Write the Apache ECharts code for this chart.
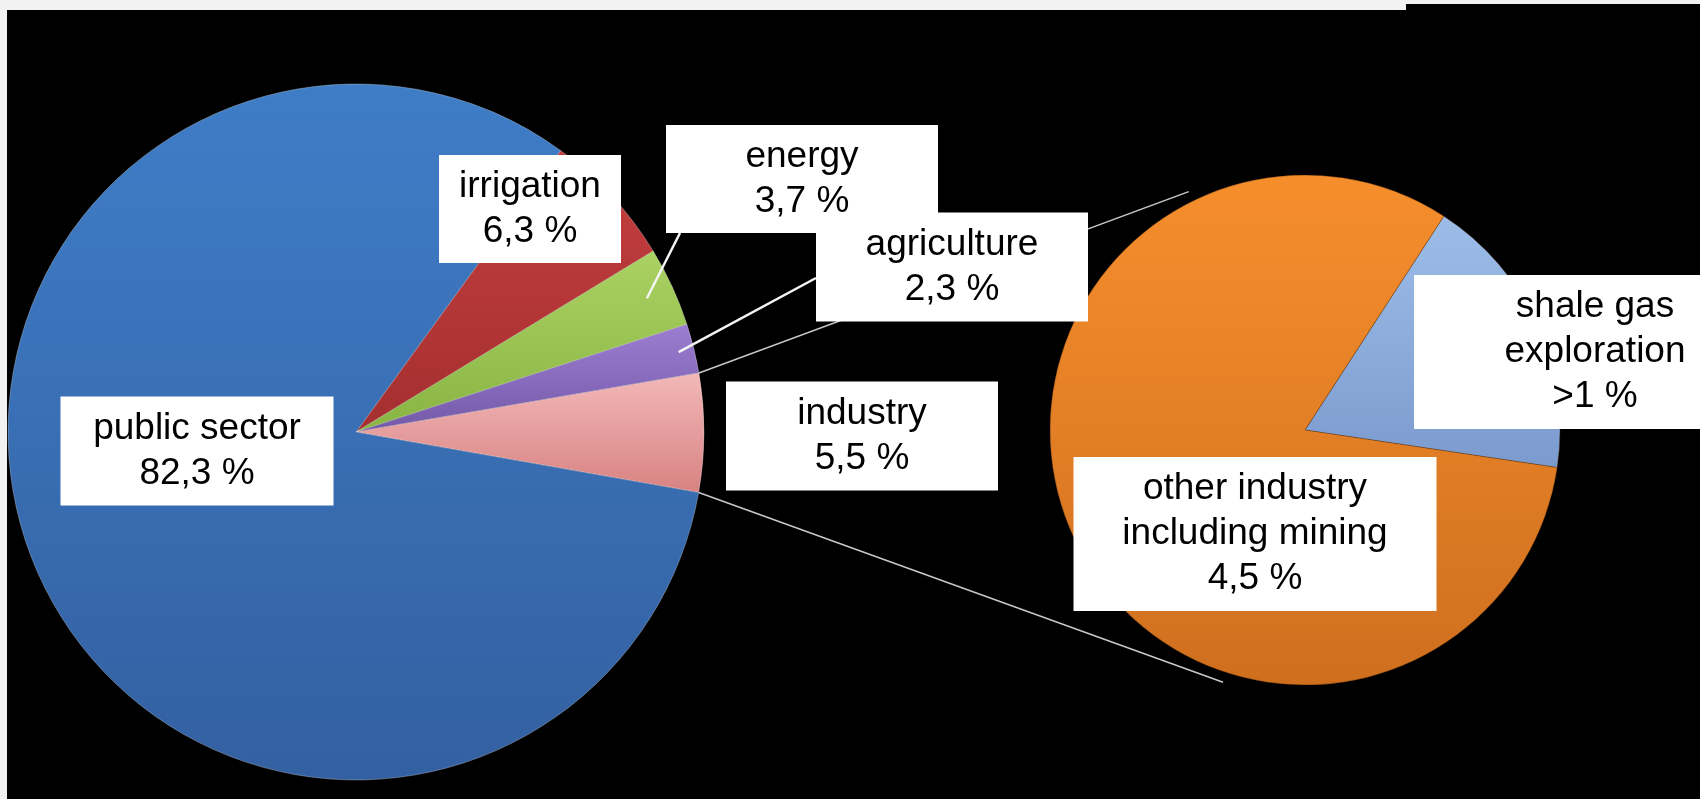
<!DOCTYPE html>
<html>
<head>
<meta charset="utf-8">
<script src="https://cdn.jsdelivr.net/npm/echarts@6/dist/echarts.min.js"></script>
<style>
  html, body { margin: 0; padding: 0; background: #f2f2f2; }
  #chart { width: 1700px; height: 799px; }
</style>
</head>
<body>
<div id="chart"></div>
<script>
// Water use by sector; the industry share is split out in the second pie.
const sectorNames = ['irrigation', 'energy', 'agriculture', 'industry', 'public sector'];
const sectorValues = [6.3, 3.7, 2.3, 5.5, 82.3];

const industryNames = ['shale gas\nexploration', 'other industry\nincluding mining'];
const industryValues = [1, 4.5];
const industryPrefix = ['>', ''];

// Pie geometry
const LEFT = { cx: 356, cy: 432, r: 348, start: 54 };
const RIGHT = { cx: 1305, cy: 430, r: 255, start: 57 };

// Label boxes: centre, width, height
const boxes = {
  'irrigation': { x: 530, y: 209, w: 182, h: 108 },
  'energy': { x: 802, y: 179, w: 272, h: 108 },
  'agriculture': { x: 952, y: 267, w: 272, h: 109 },
  'industry': { x: 862, y: 436, w: 272, h: 109 },
  'public sector': { x: 197, y: 451, w: 273, h: 109 },
  'shale gas\nexploration': { x: 1595, y: 352, w: 362, h: 154 },
  'other industry\nincluding mining': { x: 1255, y: 534, w: 363, h: 154 }
};

const LINE_H = 45;

const sectorColors = {
  'irrigation': ['#c63f40', '#a52f2f'],
  'energy': ['#abd263', '#88b444'],
  'agriculture': ['#9d7ed2', '#7459a8'],
  'industry': ['#f3b8b8', '#d88282'],
  'public sector': ['#3f7dc7', '#3360a1']
};
const industryColors = [['#9dbde8', '#7b9bcf'], ['#f68e2d', '#cf6f1e']];

function fmt(v) {
  return Number.isInteger(v) ? String(v) : v.toFixed(1).replace('.', ',');
}

function grad(c) {
  return {
    type: 'linear', x: 0, y: 0, x2: 0, y2: 1,
    colorStops: [{ offset: 0, color: c[0] }, { offset: 1, color: c[1] }]
  };
}

function labelFor(name, lines) {
  const b = boxes[name];
  const pad = Math.max(0, (b.h - lines * LINE_H) / 2);
  return { width: b.w, padding: [pad, 0, pad, 0] };
}

const sectorData = sectorNames.map((n, i) => ({
  name: n,
  value: sectorValues[i],
  itemStyle: { color: grad(sectorColors[n]) },
  label: labelFor(n, 2)
}));

const industryData = industryNames.map((n, i) => ({
  name: n,
  value: industryValues[i],
  itemStyle: { color: grad(industryColors[i]) },
  label: labelFor(n, n.split('\n').length + 1)
}));

// Angle (deg, counter-clockwise from 3 o'clock) where slice i begins
function sliceStart(values, start, i) {
  const total = values.reduce((a, b) => a + b, 0);
  let acc = 0;
  for (let k = 0; k < i; k++) acc += values[k];
  return start - 360 * acc / total;
}
function polar(p, angDeg, rf) {
  const a = angDeg * Math.PI / 180;
  return [p.cx + p.r * rf * Math.cos(a), p.cy - p.r * rf * Math.sin(a)];
}

const iInd = sectorNames.indexOf('industry');
const indTop = polar(LEFT, sliceStart(sectorValues, LEFT.start, iInd), 1);
const indBottom = polar(LEFT, sliceStart(sectorValues, LEFT.start, iInd + 1), 1);
const rightTop = polar(RIGHT, 116, 1.04);
const rightBottom = polar(RIGHT, -108, 1.04);

function midAngle(i) {
  return (sliceStart(sectorValues, LEFT.start, i) + sliceStart(sectorValues, LEFT.start, i + 1)) / 2;
}
const iEn = sectorNames.indexOf('energy');
const iAg = sectorNames.indexOf('agriculture');
const enBox = boxes['energy'];
const agBox = boxes['agriculture'];
const enTip = polar(LEFT, midAngle(iEn), 0.92);
const agTip = polar(LEFT, midAngle(iAg), 0.955);

function lineEl(p1, p2, color, width, z) {
  return {
    type: 'line', z: z, silent: true,
    shape: { x1: p1[0], y1: p1[1], x2: p2[0], y2: p2[1] },
    style: { stroke: color, lineWidth: width }
  };
}

const labelStyle = {
  show: true,
  position: 'outside',
  color: '#000',
  fontSize: 37,
  lineHeight: LINE_H,
  fontFamily: '"Liberation Sans", Arial, sans-serif',
  backgroundColor: '#ffffff',
  align: 'center'
};

function layoutFor(names) {
  return function (params) {
    const b = boxes[names[params.dataIndex]];
    return { x: b.x, y: b.y, align: 'center', verticalAlign: 'middle' };
  };
}

const chart = echarts.init(document.getElementById('chart'), null, { renderer: 'canvas' });
chart.setOption({
  backgroundColor: '#f2f2f2',
  animation: false,
  graphic: [
    { type: 'rect', z: -5, silent: true, shape: { x: 7, y: 10, width: 1693, height: 789 }, style: { fill: '#000' } },
    { type: 'rect', z: -5, silent: true, shape: { x: 1406, y: 4, width: 294, height: 10 }, style: { fill: '#000' } },
    lineEl(indTop, rightTop, '#c8c8c8', 1.5, 1),
    lineEl(indBottom, rightBottom, '#c8c8c8', 1.5, 1),
    lineEl([enBox.x - enBox.w / 2 + 14, enBox.y + enBox.h / 2], enTip, '#f4f4f4', 2.5, 5),
    lineEl([agBox.x - agBox.w / 2, agBox.y + 11], agTip, '#f4f4f4', 2.5, 5)
  ],
  series: [
    {
      type: 'pie',
      center: [LEFT.cx, LEFT.cy],
      radius: [0, LEFT.r],
      startAngle: LEFT.start,
      clockwise: true,
      avoidLabelOverlap: false,
      emphasis: { disabled: true },
      itemStyle: { borderColor: 'rgba(255,255,255,0.28)', borderWidth: 1 },
      label: Object.assign({}, labelStyle, {
        formatter: p => p.name + '\n' + fmt(p.value) + ' %'
      }),
      labelLine: { show: false },
      labelLayout: layoutFor(sectorNames),
      data: sectorData
    },
    {
      type: 'pie',
      center: [RIGHT.cx, RIGHT.cy],
      radius: [0, RIGHT.r],
      startAngle: RIGHT.start,
      clockwise: true,
      avoidLabelOverlap: false,
      emphasis: { disabled: true },
      itemStyle: { borderColor: 'rgba(90,50,10,0.35)', borderWidth: 1 },
      label: Object.assign({}, labelStyle, {
        formatter: p => p.name + '\n' + industryPrefix[p.dataIndex] + fmt(p.value) + ' %'
      }),
      labelLine: { show: false },
      labelLayout: layoutFor(industryNames),
      data: industryData
    }
  ]
});
</script>
</body>
</html>
